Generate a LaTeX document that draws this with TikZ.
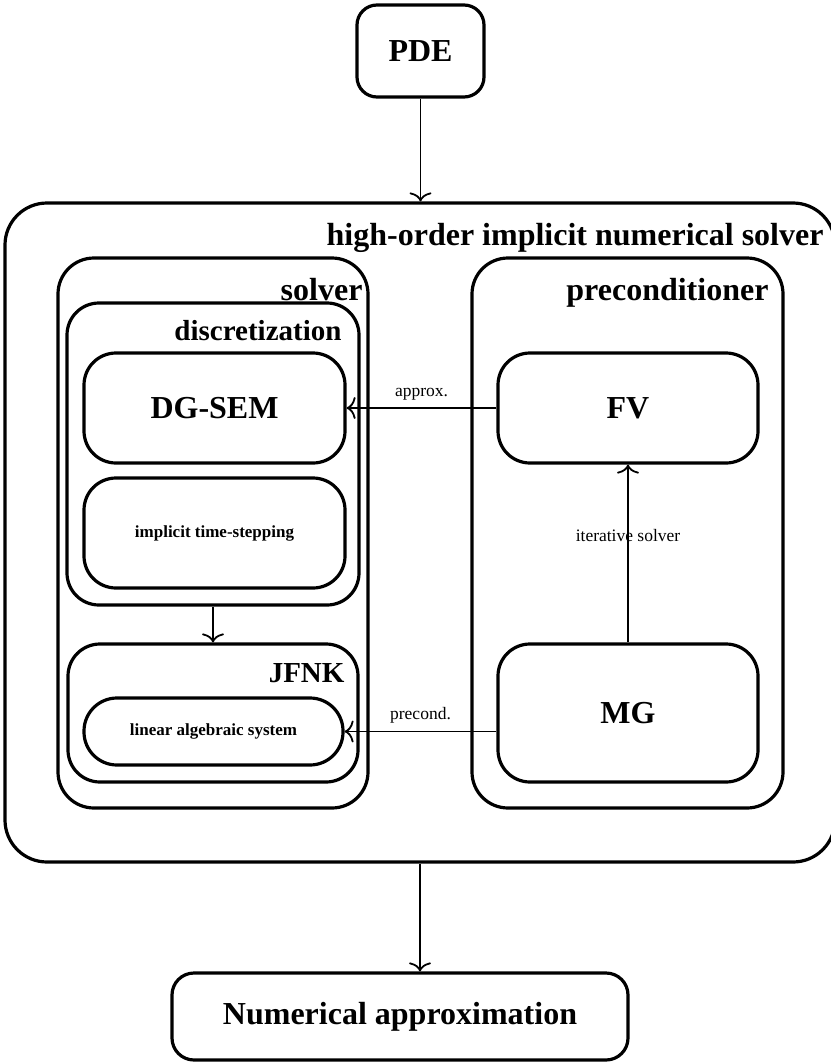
\documentclass[tikz,border=0pt]{standalone}
\usepackage{fontspec}
\setmainfont{Liberation Serif}
\usetikzlibrary{arrows.meta}

\tikzset{
  box/.style={draw, line width=3.2pt, rounded corners=#1, inner sep=0pt},
  box/.default=30pt,
  flow/.style={line width=1.8pt, -{To[length=9pt,width=22pt,line width=1.8pt]}},
  biglabel/.style={font=\fontsize{32}{36}\selectfont\bfseries},
  midlabel/.style={font=\fontsize{29}{33}\selectfont\bfseries},
  smalllabel/.style={font=\fontsize{17}{20}\selectfont\bfseries},
  edgelabel/.style={font=\fontsize{17.5}{20}\selectfont}
}

\begin{document}
\begin{tikzpicture}[x=1pt, y=-1pt]
  \useasboundingbox (0,0) rectangle (830,1062);

  % top input and bottom output
  \node[box=20pt, minimum width=127pt, minimum height=92pt, biglabel] (pde) at (420.5,51) {PDE};
  \node[box=22pt, minimum width=456pt, minimum height=87pt, biglabel] (num) at (400,1016.5) {Numerical approximation};

  % outer solver frame
  \node[box=42pt, minimum width=830pt, minimum height=659pt] (outer) at (420,532.5) {};
  \node[biglabel, anchor=base east] (outerlbl) at (827,245) {high-order implicit numerical solver};

  % left column: solver
  \node[box=36pt, minimum width=310pt, minimum height=550pt] (solver) at (213,533) {};
  \node[biglabel, anchor=base east] (solverlbl) at (366,300) {solver};

  \node[box=32pt, minimum width=292pt, minimum height=302pt] (disc) at (213,454) {};
  \node[midlabel, anchor=base east] (disclbl) at (345,340) {discretization};

  \node[box=32pt, minimum width=261pt, minimum height=110pt, biglabel] (dg) at (214.5,408) {DG-SEM};
  \node[box=32pt, minimum width=261pt, minimum height=110pt, smalllabel] (time) at (214.5,533) {implicit time-stepping};

  \node[box=32pt, minimum width=290pt, minimum height=138pt] (jfnk) at (213,713) {};
  \node[midlabel, anchor=base east] (jfnklbl) at (348,682) {JFNK};

  \node[box=33pt, minimum width=259pt, minimum height=67pt, smalllabel] (lin) at (213.5,731.5) {linear algebraic system};

  % right column: preconditioner
  \node[box=36pt, minimum width=311pt, minimum height=550pt] (prec) at (627.5,533) {};
  \node[biglabel, anchor=base east] (preclbl) at (772,300) {preconditioner};

  \node[box=32pt, minimum width=260pt, minimum height=110pt, biglabel] (fv) at (628,408) {FV};
  \node[box=32pt, minimum width=260pt, minimum height=138pt, biglabel] (mg) at (628,713) {MG};

  % connectors
  \draw[flow] (pde.south) -- (pde.south |- outer.north);
  \draw[flow] (outer.south) -- (outer.south |- num.north);
  \draw[flow] (disc.south) -- (disc.south |- jfnk.north);
  \draw[flow] (mg.north) -- node[edgelabel, pos=0.6] {iterative solver} (fv.south);
  \draw[flow] (fv.west) -- node[edgelabel, above=4pt] {approx.} (fv.west -| dg.east);
  \draw[flow] (mg.west |- lin.east) -- node[edgelabel, above=4pt] {precond.} (lin.east);
\end{tikzpicture}
\end{document}
